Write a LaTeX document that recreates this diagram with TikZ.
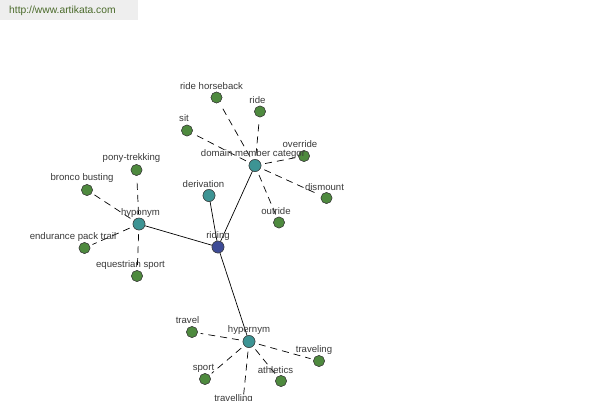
\documentclass[tikz,border=0pt]{standalone}
\usepackage{fontspec}
\setmainfont{Liberation Sans}
\begin{document}
\begin{tikzpicture}[x=1pt,y=-1pt,
  leaf/.style={circle,draw=black!75,fill=leafgreen,line width=0.5pt,minimum size=11pt,inner sep=0pt},
  hub/.style={circle,draw=black!75,fill=hubteal,line width=0.5pt,minimum size=12pt,inner sep=0pt},
  root/.style={circle,draw=black!75,fill=rootblue,line width=0.5pt,minimum size=12pt,inner sep=0pt},
  lbl/.style={text=labelgrey,font=\fontsize{9.6}{11}\selectfont,inner sep=0pt},
  solidedge/.style={draw=black,line width=0.7pt},
  dashedge/.style={draw=black,line width=0.7pt,dash pattern=on 7pt off 5pt,shorten <=4pt,shorten >=3pt}]
\definecolor{leafgreen}{HTML}{4E8A3E}
\definecolor{hubteal}{HTML}{3D9494}
\definecolor{rootblue}{HTML}{3D4B96}
\definecolor{labelgrey}{HTML}{3A3A3A}
\definecolor{urlgreen}{HTML}{4A6A2A}
\definecolor{urlbg}{HTML}{EEEEEE}
\useasboundingbox (0,0) rectangle (600,400);
\clip (0,0) rectangle (600,400);
\fill[white] (0,0) rectangle (600,400);
\fill[urlbg] (0,0) rectangle (138,20);
\node[text=urlgreen,font=\fontsize{10.3}{12}\selectfont,anchor=west,inner sep=0pt] (url) at (9,10.5) {http://www.artikata.com};

% nodes
\node[root] (riding) at (218,247) {};
\node[hub] (dom) at (255,165.5) {};
\node[hub] (der) at (209,195.5) {};
\node[hub] (hypo) at (139,224) {};
\node[hub] (hyper) at (249,341.5) {};

\node[leaf] (rh) at (216.5,97.5) {};
\node[leaf] (ride) at (260,111.5) {};
\node[leaf] (sit) at (187,130.5) {};
\node[leaf] (ovr) at (304,156) {};
\node[leaf] (dis) at (326.5,198) {};
\node[leaf] (out) at (279,222.5) {};

\node[leaf] (pony) at (136.5,170) {};
\node[leaf] (bronco) at (87,190) {};
\node[leaf] (endu) at (84.5,248) {};
\node[leaf] (eques) at (137,276) {};

\node[leaf] (travel) at (192,332) {};
\node[leaf] (traveling) at (319,361) {};
\node[leaf] (sport) at (205,379) {};
\node[leaf] (ath) at (281,381) {};
\node[leaf] (travelling) at (242,411) {};

% edges
\path[solidedge] (riding) -- (dom);
\path[solidedge] (riding) -- (der);
\path[solidedge] (riding) -- (hypo);
\path[solidedge] (riding) -- (hyper);
\foreach \n in {rh,ride,sit,ovr,dis,out} \path[dashedge] (dom) -- (\n);
\foreach \n in {pony,bronco,endu,eques} \path[dashedge] (hypo) -- (\n);
\foreach \n in {travel,traveling,sport,ath,travelling} \path[dashedge] (hyper) -- (\n);

% redraw nodes on top
\node[root] at (riding) {};
\foreach \n in {dom,der,hypo,hyper} \node[hub] at (\n) {};
\foreach \n in {rh,ride,sit,ovr,dis,out,pony,bronco,endu,eques,travel,traveling,sport,ath,travelling} \node[leaf] at (\n) {};

% labels
\node[lbl] (Lriding) at (218,236) {riding};
\node[lbl] (Ldom) at (253,154) {domain member categor};
\node[lbl] (Lder) at (203.5,184) {derivation};
\node[lbl] (Lhypo) at (140.5,213) {hyponym};
\node[lbl] (Lhyper) at (249,330) {hypernym};
\node[lbl] (Lrh) at (211.5,86) {ride horseback};
\node[lbl] (Lride) at (257.5,100) {ride};
\node[lbl] (Lsit) at (184,118.5) {sit};
\node[lbl] (Lovr) at (300,144) {override};
\node[lbl] (Ldis) at (324.5,187) {dismount};
\node[lbl] (Lout) at (276,211) {outride};
\node[lbl] (Lpony) at (131.5,158) {pony-trekking};
\node[lbl] (Lbronco) at (82,178) {bronco busting};
\node[lbl] (Lendu) at (73,237) {endurance pack trail};
\node[lbl] (Leques) at (130.5,265.5) {equestrian sport};
\node[lbl] (Ltravel) at (187.5,320) {travel};
\node[lbl] (Ltraveling) at (314,350) {traveling};
\node[lbl] (Lsport) at (203.5,368) {sport};
\node[lbl] (Lath) at (275.5,370) {athletics};
\node[lbl] (Ltravelling) at (233.5,399.5) {travelling};
\end{tikzpicture}
\end{document}
